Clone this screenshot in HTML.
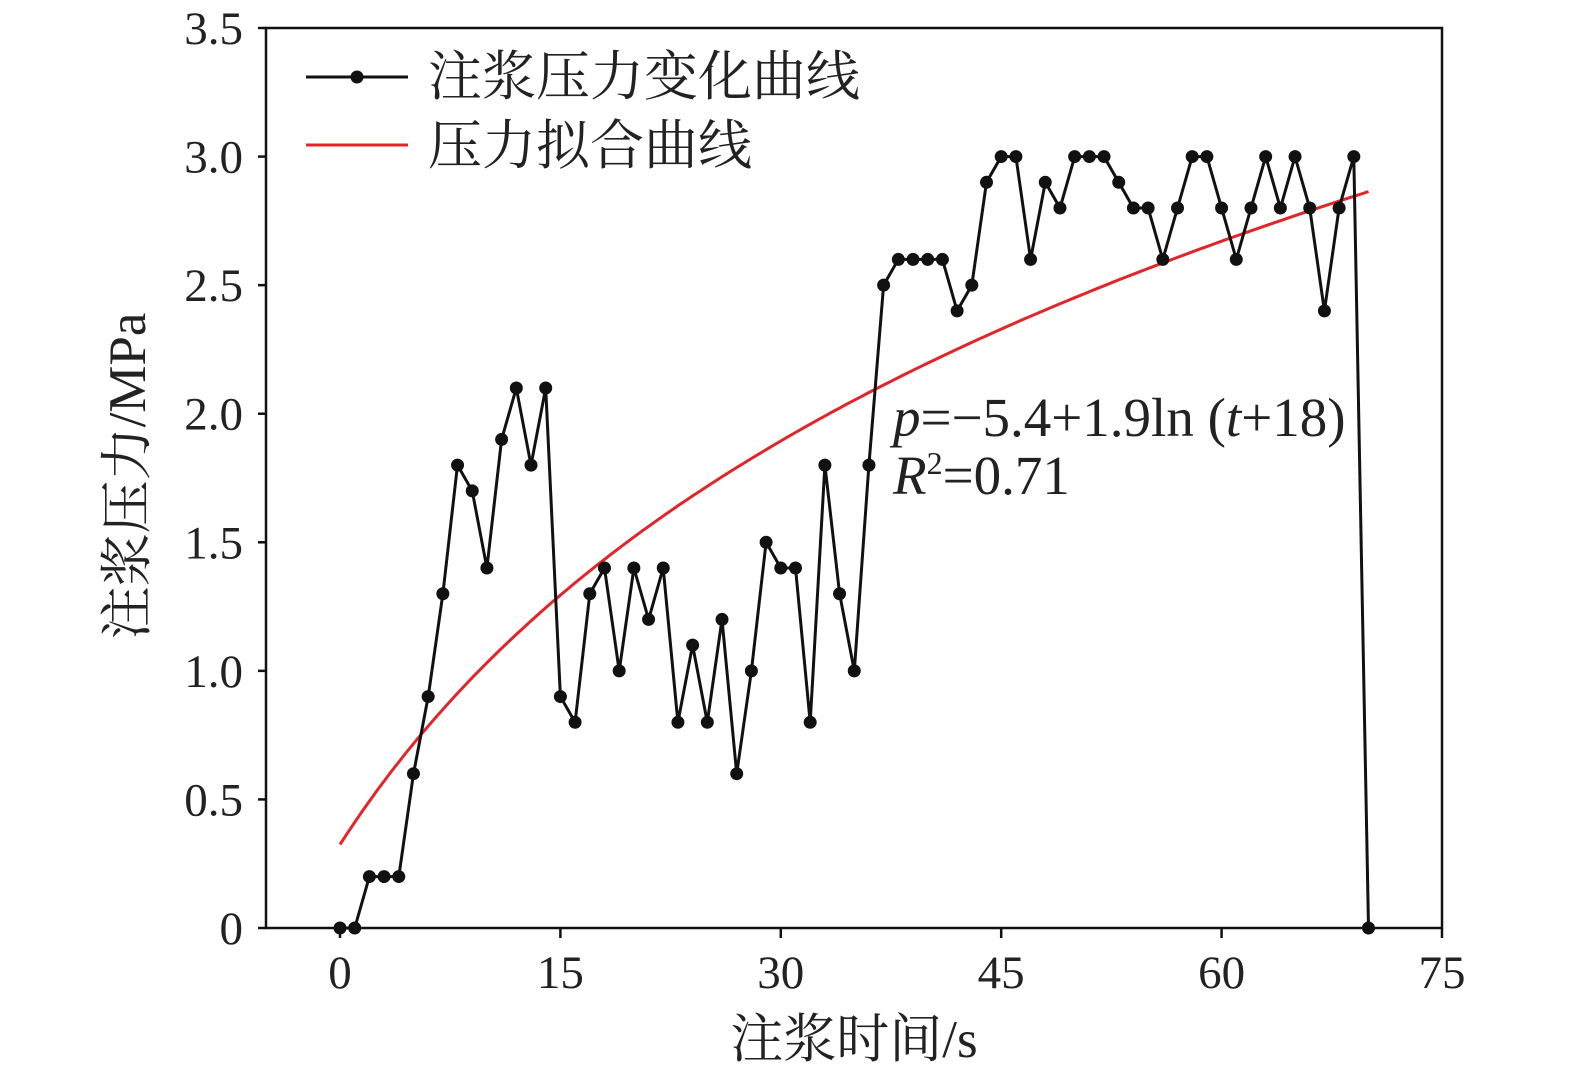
<!DOCTYPE html>
<html><head><meta charset="utf-8"><style>
html,body{margin:0;padding:0;background:#fff;}
svg{display:block;}
text{font-family:"Liberation Serif","Noto Serif CJK SC","Noto Sans CJK SC",serif;fill:#222;}
</style></head><body>
<svg id="s" width="1575" height="1078" xmlns="http://www.w3.org/2000/svg">
<rect x="266" y="28" width="1176" height="900" fill="none" stroke="#111" stroke-width="2.5"/>
<g id="ticks" stroke="#111" stroke-width="2.5"></g>
<g id="labels" font-size="47" text-anchor="end"></g>
<path id="fit" fill="none" stroke="#e0262b" stroke-width="3"/>
<polyline id="data" fill="none" stroke="#111" stroke-width="3"/>
<g id="dots" fill="#111"></g>
<line x1="306" y1="77" x2="408" y2="77" stroke="#111" stroke-width="3"/>
<circle cx="357" cy="77" r="6.5" fill="#111"/>
<text x="428" y="95" font-size="54">注浆压力变化曲线</text>
<line x1="306" y1="145" x2="408" y2="145" stroke="#e0262b" stroke-width="3"/>
<text x="428" y="164" font-size="54">压力拟合曲线</text>
<text x="893" y="436" font-size="55"><tspan font-style="italic">p</tspan>=−5.4+1.9ln (<tspan font-style="italic">t</tspan>+18)</text>
<text x="893" y="494" font-size="55"><tspan font-style="italic">R</tspan><tspan font-size="32" dy="-20">2</tspan><tspan dy="20">=0.71</tspan></text>
<text x="854" y="1057" font-size="53" text-anchor="middle">注浆时间/s</text>
<text transform="translate(145,476) rotate(-90)" font-size="53" text-anchor="middle">注浆压力/MPa</text>
</svg>
<script>
var X=function(t){return 340+t*14.693;},Y=function(p){return 928-p*257.14;};
var d=[0,0,0.2,0.2,0.2,0.6,0.9,1.3,1.8,1.7,1.4,1.9,2.1,1.8,2.1,0.9,0.8,1.3,1.4,1.0,1.4,1.2,1.4,0.8,1.1,0.8,1.2,0.6,1.0,1.5,1.4,1.4,0.8,1.8,1.3,1.0,1.8,2.5,2.6,2.6,2.6,2.6,2.4,2.5,2.9,3.0,3.0,2.6,2.9,2.8,3.0,3.0,3.0,2.9,2.8,2.8,2.6,2.8,3.0,3.0,2.8,2.6,2.8,3.0,2.8,3.0,2.8,2.4,2.8,3.0,0];
var ns="http://www.w3.org/2000/svg",pts=[],dots=document.getElementById('dots');
d.forEach(function(p,t){pts.push(X(t).toFixed(1)+','+Y(p).toFixed(1));var c=document.createElementNS(ns,'circle');c.setAttribute('cx',X(t));c.setAttribute('cy',Y(p));c.setAttribute('r',6.5);dots.appendChild(c);});
document.getElementById('data').setAttribute('points',pts.join(' '));
var f=[];for(var t=0;t<=70;t+=0.5){var p=-4.30+1.60*Math.log(t+18);f.push((t?'L':'M')+X(t).toFixed(1)+','+Y(p).toFixed(1));}
document.getElementById('fit').setAttribute('d',f.join(''));
var tk=document.getElementById('ticks'),lb=document.getElementById('labels');
function L(a,b,c,e){var l=document.createElementNS(ns,'line');l.setAttribute('x1',a);l.setAttribute('y1',b);l.setAttribute('x2',c);l.setAttribute('y2',e);tk.appendChild(l);}
function T(x,y,s,a){var e=document.createElementNS(ns,'text');e.setAttribute('x',x);e.setAttribute('y',y);if(a)e.setAttribute('text-anchor',a);e.textContent=s;lb.appendChild(e);}
for(var i=0;i<=7;i++){var v=i*0.5,y=Y(v);L(266,y,258,y);T(243,y+16,i==0?'0':v.toFixed(1));}
for(var i=0;i<=5;i++){var x=X(i*15);L(x,928,x,938);T(x,988,String(i*15),'middle');}
</script>
</body></html>
